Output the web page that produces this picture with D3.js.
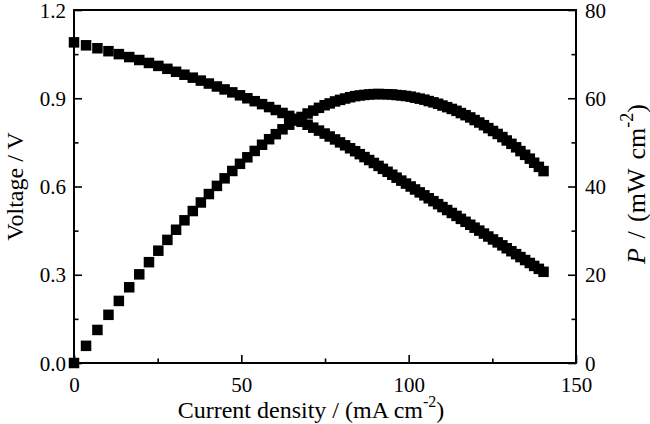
<!DOCTYPE html>
<html><head><meta charset="utf-8">
<script src="https://cdn.jsdelivr.net/npm/d3@7"></script>
<style>body{margin:0;background:#fff}svg{display:block}text{font-family:"Liberation Serif","Times New Roman",serif;fill:#000}</style>
</head><body><svg id="c" width="650" height="424"></svg>
<script>
const currentDensity=[0,3.6,7.0,10.3,13.4,16.5,19.5,22.4,25.2,27.9,30.5,33.0,35.5,37.9,40.3,42.7,45.0,47.3,49.6,51.8,54.0,56.2,58.3,60.3,62.3,64.3,66.2,68.0,69.8,71.5,73.2,74.9,76.4,78.0,79.5,81.0,82.5,84.0,85.4,86.8,88.2,89.6,91.0,92.3,93.7,95.1,96.4,97.8,99.2,100.6,101.9,103.3,104.7,106.0,107.4,108.8,110.1,111.5,112.9,114.3,115.6,117.0,118.4,119.7,121.1,122.5,123.8,125.2,126.6,128.0,129.3,130.7,132.1,133.4,134.8,136.2,137.5,138.9,140.3];
const voltage=[1.09,1.08,1.07,1.06,1.05,1.04,1.03,1.02,1.01,1.00,0.99,0.98,0.97,0.96,0.95,0.94,0.93,0.92,0.91,0.90,0.89,0.88,0.87,0.86,0.85,0.84,0.83,0.82,0.81,0.80,0.79,0.78,0.77,0.76,0.75,0.74,0.73,0.72,0.71,0.70,0.69,0.68,0.67,0.66,0.65,0.64,0.63,0.62,0.61,0.60,0.59,0.58,0.57,0.56,0.55,0.54,0.53,0.52,0.51,0.50,0.49,0.48,0.47,0.46,0.45,0.44,0.43,0.42,0.41,0.40,0.39,0.38,0.37,0.36,0.35,0.34,0.33,0.32,0.31];
const power=[0,3.89,7.49,10.92,14.07,17.16,20.09,22.85,25.45,27.90,30.20,32.34,34.44,36.38,38.29,40.14,41.85,43.52,45.14,46.62,48.06,49.46,50.72,51.86,52.96,54.01,54.95,55.76,56.54,57.20,57.83,58.42,58.83,59.28,59.63,59.94,60.23,60.48,60.63,60.76,60.86,60.93,60.97,60.92,60.91,60.86,60.73,60.64,60.51,60.36,60.12,59.91,59.68,59.36,59.07,58.75,58.35,57.98,57.58,57.15,56.64,56.16,55.65,55.06,54.50,53.90,53.23,52.58,51.91,51.20,50.43,49.67,48.88,48.02,47.18,46.31,45.38,44.45,43.49];
const xTicks=[0,50,100,150];
const vTicks=[0.0,0.3,0.6,0.9,1.2];
const pTicks=[0,20,40,60,80];

const svg=d3.select("#c");
const L=74,R=576,T=10,B=363;
const x=d3.scaleLinear().domain([0,150]).range([L,R]);
const yV=d3.scaleLinear().domain([0,1.2]).range([B,T]);
const yP=d3.scaleLinear().domain([0,80]).range([B,T]);

const g=svg.append("g");
function tickGroup(axis,pos){
  const a=g.append("g").attr("transform",pos).call(axis);
  a.select(".domain").remove();
  a.selectAll("line").attr("stroke","#000").attr("stroke-width",1.6);
  return a;
}
// minor ticks
tickGroup(d3.axisBottom(x).tickValues([25,75,125]).tickSize(-4.5).tickFormat(""),`translate(0,${B})`);
tickGroup(d3.axisLeft(yV).tickValues([0.15,0.45,0.75,1.05]).tickSize(-4.5).tickFormat(""),`translate(${L},0)`);
tickGroup(d3.axisRight(yP).tickValues([10,30,50,70]).tickSize(-4.5).tickFormat(""),`translate(${R},0)`);
// major ticks
const ax=tickGroup(d3.axisBottom(x).tickValues(xTicks).tickSize(-8).tickPadding(0).tickFormat(d3.format("d")),`translate(0,${B})`);
ax.selectAll("text").attr("font-size",21).attr("font-family","Liberation Serif").attr("dy",null).attr("y",29).attr("fill","#000");
const ay=tickGroup(d3.axisLeft(yV).tickValues(vTicks).tickSize(-8).tickFormat(d3.format(".1f")),`translate(${L},0)`);
ay.selectAll("text").attr("font-size",21).attr("font-family","Liberation Serif").attr("x",-8).attr("dy","0.34em").attr("fill","#000");
const ap=tickGroup(d3.axisRight(yP).tickValues(pTicks).tickSize(-8).tickFormat(d3.format("d")),`translate(${R},0)`);
ap.selectAll("text").attr("font-size",21).attr("font-family","Liberation Serif").attr("x",9).attr("dy","0.34em").attr("fill","#000");

// frame
g.append("rect").attr("x",L).attr("y",T).attr("width",R-L).attr("height",B-T).attr("fill","none").attr("stroke","#000").attr("stroke-width",2);

const S=10.5;
const data=currentDensity.map((c,i)=>({c,v:voltage[i],p:power[i]}));
g.append("g").selectAll("rect").data(data).join("rect")
 .attr("x",d=>x(d.c)-S/2).attr("y",d=>yV(d.v)-S/2).attr("width",S).attr("height",S).attr("fill","#000");
g.append("g").selectAll("rect").data(data).join("rect")
 .attr("x",d=>x(d.c)-S/2).attr("y",d=>yP(d.p)-S/2).attr("width",S).attr("height",S).attr("fill","#000");

// titles
const xt=svg.append("text").attr("x",311).attr("y",418).attr("text-anchor","middle").attr("font-size",24);
xt.append("tspan").text("Current density / (mA cm");
xt.append("tspan").attr("font-size",16).attr("dy",-11).text("-2");
xt.append("tspan").attr("dy",11).text(")");

svg.append("text").attr("transform",`translate(23,${(T+B)/2}) rotate(-90)`).attr("text-anchor","middle").attr("font-size",24).text("Voltage / V");

const pt=svg.append("text").attr("transform",`translate(645,184) rotate(-90)`).attr("text-anchor","middle").attr("font-size",26).attr("word-spacing",3);
pt.append("tspan").attr("font-style","italic").text("P");
pt.append("tspan").text(" / (mW cm");
pt.append("tspan").attr("font-size",18).attr("dy",-12).text("-2");
pt.append("tspan").attr("dy",12).text(")");
</script></body></html>
